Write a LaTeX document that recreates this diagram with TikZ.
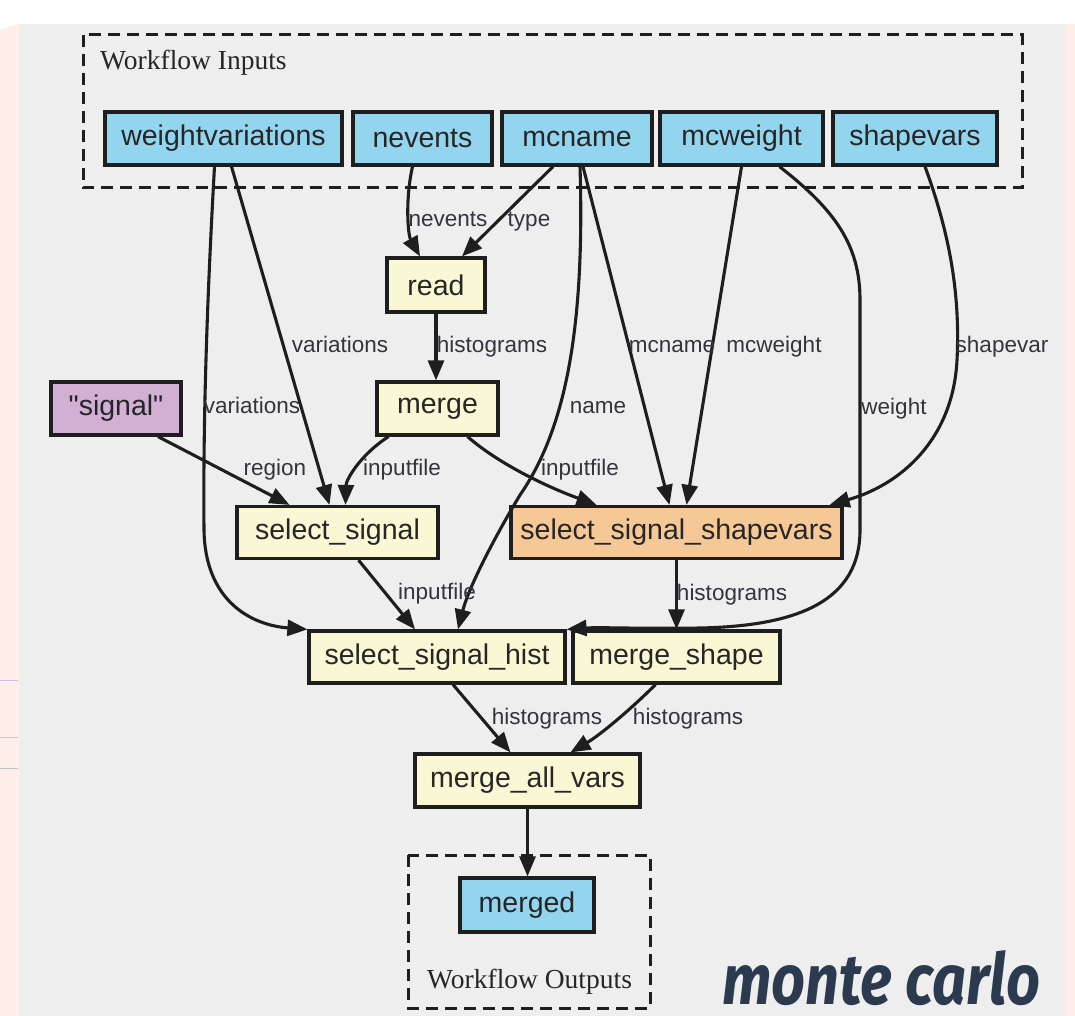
\documentclass[tikz,border=0pt]{standalone}
\usepackage{fontspec}
\usepackage{graphicx}
\setmainfont{Liberation Serif}
\setsansfont{Liberation Sans}
\newfontfamily\montefnt{Fira Sans}
\usetikzlibrary{arrows.meta}

\definecolor{pagepink}{HTML}{FDEEEA}
\definecolor{panelgray}{HTML}{EEEEEE}
\definecolor{linec}{HTML}{1E1E1E}
\definecolor{txtc}{HTML}{262626}
\definecolor{lblc}{HTML}{36323E}
\definecolor{inblue}{HTML}{93D4EE}
\definecolor{procyellow}{HTML}{FAF8D4}
\definecolor{shapeorange}{HTML}{F5C896}
\definecolor{constpurple}{HTML}{D2B0D6}
\definecolor{navy}{HTML}{2B3A4F}
\definecolor{faintlav}{HTML}{C9BFE6}

\newcommand\boxfont{\sffamily\fontsize{28.5pt}{30pt}\selectfont}
\newcommand\edgefont{\sffamily\fontsize{22.5pt}{24pt}\selectfont}
\newcommand\groupfont{\rmfamily\fontsize{27.5pt}{29pt}\selectfont}

\tikzset{
  wfbox/.style={draw=linec, line width=3.2pt, rectangle, inner sep=0pt,
    minimum height=53pt, font=\boxfont, text=txtc},
  inbox/.style={wfbox, fill=inblue},
  procbox/.style={wfbox, fill=procyellow},
  shapebox/.style={wfbox, fill=shapeorange},
  constbox/.style={wfbox, fill=constpurple},
  edge/.style={draw=linec, line width=3.1pt, -{Triangle[length=20pt,width=16pt]}},
  lbl/.style={font=\edgefont, text=lblc, inner sep=0pt, anchor=base},
  groupframe/.style={draw=linec, line width=3pt, dash pattern=on 12pt off 7pt},
  grouplbl/.style={font=\groupfont, text=txtc, inner sep=0pt, anchor=base west},
}

\begin{document}
\begin{tikzpicture}[x=1pt,y=-1pt]
\useasboundingbox (0,0) rectangle (1075,1016);

% page background and grey panel
\fill[white] (0,0) rectangle (1075,1016);
\fill[pagepink] (0,30) -- (18,24) -- (1075,24) -- (1075,1016) -- (0,1016) -- cycle;
\fill[panelgray] (19,24) rectangle (1065,1016);
\draw[faintlav, line width=1pt] (0,680) -- (18,680);
\draw[faintlav, line width=1pt] (0,737) -- (18,737);
\draw[gray!50, line width=0.8pt] (0,768) -- (18,768);

% groups
\draw[groupframe] (83,35) rectangle (1022,188);
\node[grouplbl] (inlabel) at (100,70) {Workflow Inputs};
\draw[groupframe] (408,855) rectangle (650,1008);
\node[grouplbl] (outlabel) at (427,988) {Workflow Outputs};

% workflow inputs
\node[inbox, minimum width=237pt] (wv)  at (223.5,138.5) {weightvariations};
\node[inbox, minimum width=139pt] (nev) at (422.5,138.5) {nevents};
\node[inbox, minimum width=150pt] (mcn) at (577,138.5) {mcname};
\node[inbox, minimum width=163pt] (mcw) at (741.5,138.5) {mcweight};
\node[inbox, minimum width=164pt] (shv) at (915,138.5) {shapevars};

% steps
\node[procbox, minimum width=98pt, minimum height=54pt] (read) at (436,285) {read};
\node[procbox, minimum width=121pt] (merge) at (437.5,408.5) {merge};
\node[constbox, minimum width=130pt] (sig) at (116,408.5) {\textquotedbl signal\textquotedbl};
\node[procbox, minimum width=201pt, minimum height=52pt] (ss) at (337.5,532.5) {select\_signal};
\node[shapebox, minimum width=331pt, minimum height=52pt] (sss) at (676.5,532.5) {select\_signal\_shapevars};
\node[procbox, minimum width=256pt, minimum height=52pt] (ssh) at (437,657) {select\_signal\_hist};
\node[procbox, minimum width=207pt, minimum height=52pt] (msh) at (676.5,657) {merge\_shape};
\node[procbox, minimum width=225pt] (mav) at (527.5,780.5) {merge\_all\_vars};

% workflow output
\node[inbox, minimum width=134pt, minimum height=54pt] (mgd) at (527,905) {merged};

% connectors
\draw[edge] ([xshift=-9pt]wv.south) .. controls (207,300) and (203,420) .. (204,530)
  .. controls (205,600) and (250,625) .. (ssh.north west);
\draw[edge] ([xshift=8pt]wv.south) -- ([xshift=-8pt]ss.north);
\draw[edge] ([xshift=-10pt]nev.south) .. controls (405,200) and (408,235) .. ([xshift=-16pt]read.north);
\draw[edge] ([xshift=-24pt]mcn.south) -- ([xshift=26pt]read.north);
\draw[edge] ([xshift=3pt]mcn.south) .. controls (585,330) and (565,430) .. (520,495)
  .. controls (490,545) and (468,590) .. ([xshift=21pt]ssh.north);
\draw[edge] ([xshift=6pt]mcn.south) -- ([xshift=-7pt]sss.north);
\draw[edge] (mcw.south) -- ([xshift=10pt]sss.north);
\draw[edge] ([xshift=38pt]mcw.south) .. controls (835,210) and (860,245) .. (860,300) -- (860,530)
  .. controls (860,600) and (800,626) .. (700,628)
  .. controls (640,629) and (600,627) .. (ssh.north east);
\draw[edge] ([xshift=10pt]shv.south) .. controls (952,240) and (960,300) .. (957,360)
  .. controls (953,440) and (900,485) .. ([xshift=-14pt]sss.north east);
\draw[edge] (read.south) -- (read.south |- merge.north);
\draw[edge] ([xshift=-49pt]merge.south) .. controls (360,455) and (346,480) .. ([xshift=8pt]ss.north);
\draw[edge] ([xshift=30pt]merge.south) .. controls (500,465) and (550,488) .. ([xshift=-80pt]sss.north);
\draw[edge] ([xshift=42pt]sig.south) -- ([xshift=-48pt]ss.north);
\draw[edge] ([xshift=21pt]ss.south) -- ([xshift=-22pt]ssh.north);
\draw[edge] (sss.south) -- (sss.south |- msh.north);
\draw[edge] ([xshift=16pt]ssh.south) -- ([xshift=-17pt]mav.north);
\draw[edge] ([xshift=-21pt]msh.south) .. controls (630,710) and (600,735) .. ([xshift=43pt]mav.north);
\draw[edge] (mav.south) -- (mav.south |- mgd.north);

% connector labels
\node[lbl] (l1)  at (252,413) {variations};
\node[lbl] (l2)  at (340,352) {variations};
\node[lbl] (l3)  at (448,227) {nevents};
\node[lbl] (l4)  at (529,227) {type};
\node[lbl] (l5)  at (598,413) {name};
\node[lbl] (l6)  at (672,352) {mcname};
\node[lbl] (l7)  at (774,352) {mcweight};
\node[lbl] (l8)  at (894,414) {weight};
\node[lbl] (l9)  at (1002,352) {shapevar};
\node[lbl] (l10) at (492,352) {histograms};
\node[lbl] (l11) at (275,475) {region};
\node[lbl] (l12) at (402,475) {inputfile};
\node[lbl] (l13) at (580,475) {inputfile};
\node[lbl] (l14) at (437,599) {inputfile};
\node[lbl] (l15) at (732,600) {histograms};
\node[lbl] (l16) at (547,724) {histograms};
\node[lbl] (l17) at (688,724) {histograms};

% caption
\node[anchor=base west, inner sep=0pt, text=navy] (caption) at (722,1004)
  {\resizebox{318pt}{54pt}{\montefnt\bfseries\itshape monte carlo}};
\end{tikzpicture}
\end{document}
